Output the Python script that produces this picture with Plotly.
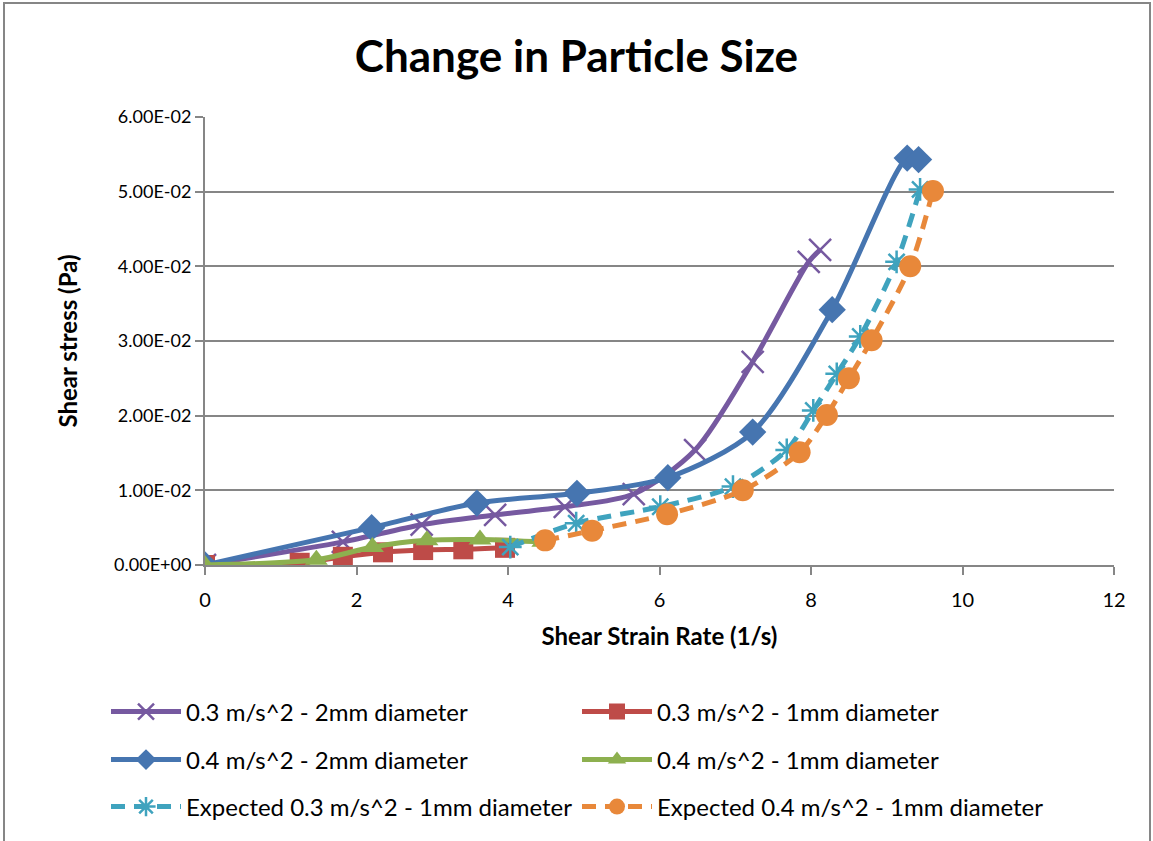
import plotly.graph_objects as go

# ---- data ----
p03_2mm_x = [0, 1.82, 2.86, 3.83, 4.75, 5.66, 6.47, 7.23, 7.97, 8.12]
p03_2mm_y = [0, 0.0031, 0.0054, 0.0067, 0.0078, 0.0095, 0.0154, 0.0272, 0.0406, 0.0422]

p03_1mm_x = [0, 1.25, 1.82, 2.35, 2.88, 3.41, 3.96]
p03_1mm_y = [0, 0.0003, 0.0011, 0.0017, 0.0020, 0.0021, 0.0023]

p04_2mm_x = [0, 2.20, 3.59, 4.91, 6.11, 7.23, 8.28, 9.27, 9.42]
p04_2mm_y = [0, 0.0050, 0.0083, 0.0096, 0.0117, 0.0178, 0.0342, 0.0545, 0.0543]

p04_1mm_x = [0, 1.47, 2.21, 2.93, 3.63, 4.46]
p04_1mm_y = [0, 0.0007, 0.0024, 0.0033, 0.0034, 0.0031]

exp03_x = [4.03, 4.90, 6.01, 6.97, 7.68, 8.03, 8.34, 8.65, 9.13, 9.44]
exp03_y = [0.0024, 0.0056, 0.0078, 0.0105, 0.0154, 0.0207, 0.0256, 0.0306, 0.0406, 0.0503]

exp04_x = [4.49, 5.11, 6.10, 7.10, 7.85, 8.21, 8.50, 8.80, 9.31, 9.61]
exp04_y = [0.0033, 0.0046, 0.0068, 0.0100, 0.0151, 0.0201, 0.0250, 0.0301, 0.0400, 0.0501]

names = [
    "0.3 m/s^2 - 2mm diameter",
    "0.3 m/s^2 - 1mm diameter",
    "0.4 m/s^2 - 2mm diameter",
    "0.4 m/s^2 - 1mm diameter",
    "Expected 0.3 m/s^2 - 1mm diameter",
    "Expected 0.4 m/s^2 - 1mm diameter",
]

y_tickvals = [0, 0.01, 0.02, 0.03, 0.04, 0.05, 0.06]
y_ticktext = ["0.00E+00", "1.00E-02", "2.00E-02", "3.00E-02", "4.00E-02", "5.00E-02", "6.00E-02"]
x_tickvals = [0, 2, 4, 6, 8, 10, 12]

PURPLE = "#7659A0"
RED = "#BE4B48"
BLUE = "#4675B0"
GREEN = "#8DB04F"
AQUA = "#3FA3BE"
ORANGE = "#E8883A"

FONT = "Lato, Carlito, Calibri, sans-serif"

fig = go.Figure()

def add(x, y, name, color, symbol, size, legend, dash="solid", mline=0):
    fig.add_trace(go.Scatter(
        x=x, y=y, name=name, mode="lines+markers", legend=legend,
        line=dict(color=color, width=5, dash=dash, shape="spline", smoothing=0.8),
        marker=dict(symbol=symbol, size=size, color=color,
                    line=dict(color=color, width=mline)),
    ))

add(p03_2mm_x, p03_2mm_y, names[0], PURPLE, "x-thin-open", 22, "legend", mline=2.5)
add(p03_1mm_x, p03_1mm_y, names[1], RED, "square", 20, "legend")
add(p04_2mm_x, p04_2mm_y, names[2], BLUE, "diamond", 21, "legend2")
add(p04_1mm_x, p04_1mm_y, names[3], GREEN, "triangle-up", 20, "legend2")
add(exp03_x, exp03_y, names[4], AQUA, "asterisk-open", 19, "legend3", dash="14px,9px", mline=2.5)
add(exp04_x, exp04_y, names[5], ORANGE, "circle", 22, "legend3", dash="14px,9px")

L, R, T, B = 205, 39, 117, 276
W, H = 1153, 841
pw, ph = W - L - R, H - T - B

def px_x(px):
    return (px - L) / pw

def px_y(py):
    return (H - B - py) / ph

def leg(cy):
    return dict(orientation="h", x=px_x(106), xanchor="left", y=px_y(cy), yanchor="middle",
                entrywidth=386, entrywidthmode="pixels", itemwidth=70,
                font=dict(size=24), bgcolor="rgba(0,0,0,0)")

fig.update_layout(
    width=W, height=H,
    margin=dict(l=L, r=R, t=T, b=B),
    paper_bgcolor="white", plot_bgcolor="white",
    font=dict(family=FONT, color="black", size=19),
    title=dict(text="<b>Change in Particle Size</b>", x=0.5, xanchor="center",
               y=1 - 57 / H, yanchor="middle", font=dict(size=44, family=FONT)),
    xaxis=dict(range=[0, 12], tickvals=x_tickvals, showgrid=False, zeroline=False,
               showline=True, linecolor="#868686", linewidth=2,
               ticks="outside", ticklen=8, tickcolor="#868686", tickwidth=2,
               tickfont=dict(size=20), ticklabelstandoff=8,
               title=dict(text="<b>Shear Strain Rate (1/s)</b>", font=dict(size=24), standoff=18)),
    yaxis=dict(range=[0, 0.06], tickvals=y_tickvals, ticktext=y_ticktext,
               showgrid=True, gridcolor="#868686", gridwidth=2, zeroline=False,
               showline=True, linecolor="#868686", linewidth=2,
               ticks="outside", ticklen=8, tickcolor="#868686", tickwidth=2,
               tickfont=dict(size=18),
               title=dict(text="<b>Shear stress (Pa)</b>", font=dict(size=24), standoff=30)),
    legend=leg(712),
    legend2=leg(760),
    legend3=leg(807),
    showlegend=True,
)

# outer chart border
fig.add_shape(type="rect", xref="paper", yref="paper",
              x0=px_x(4), x1=px_x(1150), y0=px_y(860), y1=px_y(3),
              line=dict(color="#868686", width=2), fillcolor="rgba(0,0,0,0)", layer="below")

fig.write_html("out.html")
